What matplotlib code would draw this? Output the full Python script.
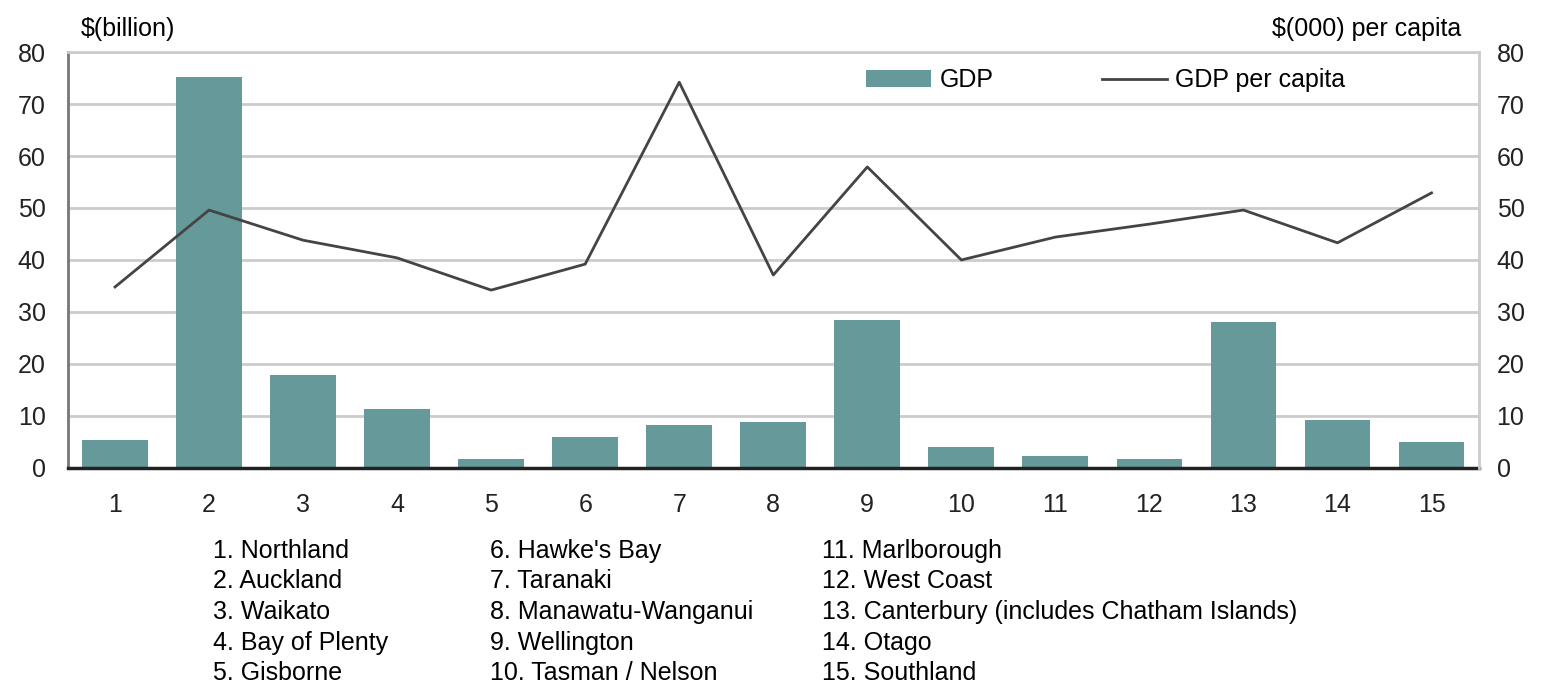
import numpy as np
import matplotlib
matplotlib.use("Agg")
import matplotlib.pyplot as plt

plt.rcParams['font.family'] = ['Liberation Sans', 'DejaVu Sans']

# region numbers and names
regions = list(range(1, 16))
region_names = ['Northland', 'Auckland', 'Waikato', 'Bay of Plenty', 'Gisborne',
                "Hawke's Bay", 'Taranaki', 'Manawatu-Wanganui', 'Wellington', 'Tasman / Nelson',
                'Marlborough', 'West Coast', 'Canterbury (includes Chatham Islands)', 'Otago', 'Southland']

# GDP, $ billion
gdp = [5.4, 75.2, 17.9, 11.3, 1.7, 6.0, 8.3, 8.8, 28.5, 4.0, 2.3, 1.7, 28.1, 9.2, 5.0]
# GDP per capita, $000
gdp_pc = [34.8, 49.6, 43.8, 40.4, 34.2, 39.2, 74.2, 37.1, 57.9, 40.0, 44.4, 46.9, 49.6, 43.3, 52.9]

fs = 18

fig = plt.figure(figsize=(15.45, 6.85), dpi=100)
ax = fig.add_axes([0.044, 0.317, 0.913, 0.607])

bars = ax.bar(regions, gdp, width=0.7, color='#669999', label='GDP', zorder=2)
ax.set_xlim(0.5, 15.5)
ax.set_ylim(0, 80)
ax.set_yticks(range(0, 81, 10))
ax.set_xticks(regions)
ax.grid(axis='y', color='#cccccc', linewidth=2, zorder=0)
ax.tick_params(length=0, labelsize=fs, colors='#222222', pad=16)
ax.tick_params(axis='x', pad=18)
ax.spines['left'].set_color('#777777')
ax.spines['left'].set_linewidth(2)
ax.spines['top'].set_color('#cccccc')
ax.spines['top'].set_linewidth(2)
ax.spines['right'].set_visible(False)
ax.spines['bottom'].set_color('#222222')
ax.spines['bottom'].set_linewidth(2.5)

ax2 = ax.twinx()
line, = ax2.plot(regions, gdp_pc, color='#444444', linewidth=2, label='GDP per capita')
ax2.set_ylim(0, 80)
ax2.set_yticks(range(0, 81, 10))
ax2.tick_params(length=0, labelsize=fs, colors='#222222', pad=13)
for s in ['left', 'top', 'bottom']:
    ax2.spines[s].set_visible(False)
ax2.spines['right'].set_color('#cccccc')
ax2.spines['right'].set_linewidth(2)

ax2.legend([bars, line], ['GDP', 'GDP per capita'], ncol=2, frameon=False,
           loc='upper left', bbox_to_anchor=(0.55, 1.015), fontsize=fs,
           handlelength=2.6, columnspacing=4.3, handletextpad=0.35)

fig.text(0.052, 0.957, '$(billion)', fontsize=fs, ha='left', va='center')
fig.text(0.946, 0.957, '$(000) per capita', fontsize=fs, ha='right', va='center')

# region key below the chart
col_x = [0.138, 0.317, 0.532]
for i, name in enumerate(region_names):
    col = i // 5
    row = i % 5
    y = 0.196 - row * 0.0447
    fig.text(col_x[col], y, f'{i + 1}. {name}', fontsize=fs, ha='left', va='center')

fig.savefig('out.png', dpi=100)
